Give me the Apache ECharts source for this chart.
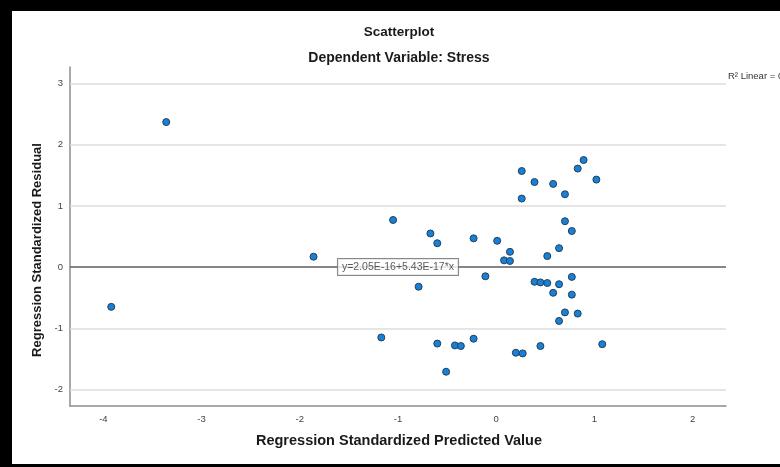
<!DOCTYPE html>
<html>
<head>
<meta charset="utf-8">
<script src="https://cdn.jsdelivr.net/npm/echarts@6/dist/echarts.min.js"></script>
<style>
html,body{margin:0;padding:0;background:#fff;}
#c{width:780px;height:467px;}
</style>
</head>
<body>
<div id="c"></div>
<script>
// ---- data ----
const predicted = [-3.36,-3.92,-1.86,-1.05,-0.67,-0.60,-0.23,0.01,-0.11,-0.79,-1.17,-0.60,-0.42,-0.36,-0.23,-0.51,
  0.26,0.39,0.58,0.70,0.83,0.89,1.02,0.26,0.70,0.77,0.14,0.08,0.14,0.64,0.52,0.39,0.45,0.52,0.64,0.77,0.58,0.77,
  0.70,0.83,0.64,0.20,0.27,0.45,1.08];
const residual = [2.37,-0.65,0.17,0.77,0.55,0.39,0.47,0.43,-0.15,-0.32,-1.15,-1.25,-1.28,-1.29,-1.17,-1.71,
  1.57,1.39,1.36,1.19,1.61,1.75,1.43,1.12,0.75,0.59,0.25,0.11,0.10,0.31,0.18,-0.24,-0.25,-0.26,-0.28,-0.16,-0.42,-0.45,
  -0.74,-0.76,-0.88,-1.40,-1.41,-1.29,-1.26];
const xTicks = [-4,-3,-2,-1,0,1,2];
const yTicks = [-2,-1,0,1,2,3];
const yGridLines = [-2,-1,1,2,3];
const fitIntercept = 2.05e-16;
const fitSlope = 5.43e-17;
const fitLabel = 'y=2.05E-16+5.43E-17*x';
const xRange = [-4.34, 2.34];
const yRange = [-2.27, 3.27];

const points = predicted.map((x,i)=>[x, residual[i]]);
const fitLine = xRange.map(x=>[x, fitIntercept + fitSlope*x]);
const fitMid = (xRange[0]+xRange[1])/2;

const FONT = 'Liberation Sans, Arial, sans-serif';
const chart = echarts.init(document.getElementById('c'), null, {renderer:'canvas'});
chart.setOption({
  animation:false,
  backgroundColor:'#fff',
  textStyle:{fontFamily:FONT},
  title:[
    {text:'Scatterplot', left:399, top:25, padding:0, textAlign:'center',
     textStyle:{fontFamily:FONT,fontSize:13.5,fontWeight:'bold',color:'#1a1a1a'}},
    {text:'Dependent Variable: Stress', left:399, top:51, padding:0, textAlign:'center',
     textStyle:{fontFamily:FONT,fontSize:14,fontWeight:'bold',color:'#1a1a1a'}}
  ],
  grid:{left:70, right:54, top:67, bottom:61, containLabel:false},
  xAxis:{
    type:'value', min:xRange[0], max:xRange[1],
    axisLine:{show:true, onZero:false, lineStyle:{color:'#8c8c8c', width:1.5}},
    axisTick:{show:false},
    splitLine:{show:false},
    axisLabel:{customValues:xTicks, margin:8, fontSize:9.5, color:'#444', fontFamily:FONT,
      formatter:v=> xTicks.indexOf(Math.round(v*1000)/1000)>=0 ? String(Math.round(v)) : ''}
  },
  yAxis:{
    type:'value', min:yRange[0], max:yRange[1],
    axisLine:{show:true, onZero:false, lineStyle:{color:'#8c8c8c', width:1.5}},
    axisTick:{show:false},
    splitLine:{show:false},
    axisLabel:{customValues:yTicks, margin:7, fontSize:9.5, color:'#444', fontFamily:FONT,
      formatter:v=> yTicks.indexOf(Math.round(v*1000)/1000)>=0 ? String(Math.round(v)) : ''}
  },
  graphic:[
    {type:'rect', shape:{x:0,y:0,width:780,height:11}, style:{fill:'#000'}, z:100},
    {type:'rect', shape:{x:0,y:0,width:12,height:467}, style:{fill:'#000'}, z:100},
    {type:'rect', shape:{x:0,y:464,width:780,height:3}, style:{fill:'#000'}, z:100},
    {type:'text', x:399, y:441, style:{text:'Regression Standardized Predicted Value', font:'bold 14.5px '+FONT,
      fill:'#1a1a1a', textAlign:'center', textVerticalAlign:'middle'}},
    {type:'text', x:37, y:250, rotation:Math.PI/2, style:{text:'Regression Standardized Residual', font:'bold 13px '+FONT,
      fill:'#1a1a1a', textAlign:'center', textVerticalAlign:'middle'}},
    {type:'text', x:728, y:76, style:{text:'R² Linear = 0.000', font:'9.5px '+FONT, fill:'#333',
      textAlign:'left', textVerticalAlign:'middle'}}
  ],
  series:[
    {
      type:'line', data:fitLine, symbol:'none', silent:true, z:3,
      lineStyle:{color:'#5e5e5e', width:1.5},
      markLine:{
        silent:true, symbol:'none', z:1,
        label:{show:false},
        lineStyle:{color:'#dcdcdc', width:1.5, type:'solid'},
        data: yGridLines.map(v=>({yAxis:v}))
      }
    },
    {
      type:'scatter', data:[[fitMid, fitIntercept + fitSlope*fitMid]], symbolSize:0, silent:true, z:6,
      label:{show:true, position:'inside', formatter:fitLabel, fontFamily:FONT, fontSize:10.5, color:'#333',
        backgroundColor:'#fff', borderColor:'#6a6a6a', borderWidth:1, padding:[3,4,2,4]}
    },
    {
      type:'scatter', data:points, symbol:'circle', symbolSize:7, z:5,
      itemStyle:{color:'#1a80d6', borderColor:'#22405e', borderWidth:1, opacity:1}
    }
  ]
});
</script>
</body>
</html>
